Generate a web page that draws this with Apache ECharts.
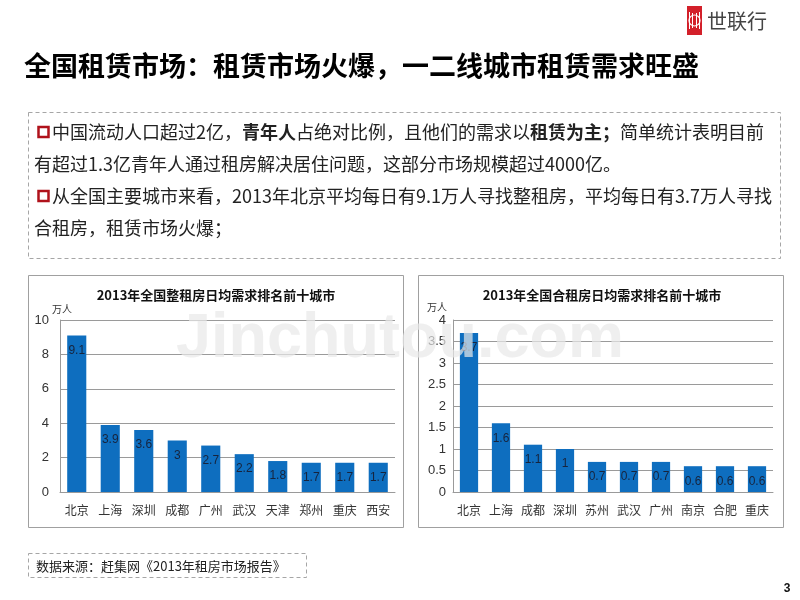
<!DOCTYPE html>
<html>
<head>
<meta charset="utf-8">
<script src="https://cdn.jsdelivr.net/npm/echarts@6/dist/echarts.min.js"></script>
<style>
html,body{margin:0;padding:0;background:#fff;}
#main{width:800px;height:600px;}
</style>
</head>
<body>
<div id="main"></div>
<script>
const pageTitle = '全国租赁市场：租赁市场火爆，一二线城市租赁需求旺盛';
const chart1Title = '2013年全国整租房日均需求排名前十城市';
const chart2Title = '2013年全国合租房日均需求排名前十城市';
const unitLabel = '万人';
const cities1 = ['北京','上海','深圳','成都','广州','武汉','天津','郑州','重庆','西安'];
const values1 = [9.1, 3.9, 3.6, 3, 2.7, 2.2, 1.8, 1.7, 1.7, 1.7];
const cities2 = ['北京','上海','成都','深圳','苏州','武汉','广州','南京','合肥','重庆'];
const values2 = [3.7, 1.6, 1.1, 1, 0.7, 0.7, 0.7, 0.6, 0.6, 0.6];
const yRange1 = [0, 10, 2];
const yRange2 = [0, 4, 0.5];
const sourceText = '数据来源：赶集网《2013年租房市场报告》';

const FONT = '"Noto Sans CJK SC", "Microsoft YaHei", sans-serif';
const BAR = '#0e6ebf';
const GRIDC = '#9a9a9a';

const chart = echarts.init(document.getElementById('main'), null, {renderer: 'canvas'});

function makeX(idx, cats) {
  return {
    type: 'category', gridIndex: idx, data: cats,
    axisLine: {show: true, lineStyle: {color: GRIDC, width: 1}},
    axisTick: {show: false},
    axisLabel: {color: '#333', fontSize: 12, fontFamily: FONT, margin: 12, interval: 0}
  };
}
function makeY(idx, r, fmtMargin) {
  return {
    type: 'value', gridIndex: idx, min: r[0], max: r[1], interval: r[2],
    axisLine: {show: true, lineStyle: {color: GRIDC, width: 1}},
    axisTick: {show: false},
    splitLine: {show: true, lineStyle: {color: GRIDC, width: 1}},
    axisLabel: {color: '#333', fontSize: 13, fontFamily: 'Liberation Sans, Arial, sans-serif', margin: fmtMargin}
  };
}
function makeSeries(idx, vals) {
  return {
    type: 'bar', xAxisIndex: idx, yAxisIndex: idx, data: vals, barWidth: '57%',
    itemStyle: {color: BAR},
    label: {show: true, position: 'insideTop', distance: 9, color: '#17243d', fontSize: 12,
            fontFamily: 'Liberation Sans, Arial, sans-serif'},
    animation: false
  };
}

function bodyLine(x, y, text, rich) {
  return {type: 'text', x: x, y: y, style: {text: text, rich: rich, font: '18px ' + FONT, fill: '#222', verticalAlign: 'middle'}};
}
const rich = {
  n: {fontSize: 18, fontFamily: FONT, color: '#222'},
  b: {fontSize: 18, fontFamily: FONT, color: '#111', fontWeight: 'bold'}
};

const option = {
  animation: false,
  backgroundColor: '#fff',
  grid: [
    {left: 60, top: 320, width: 335, height: 172},
    {left: 453, top: 320, width: 320, height: 172}
  ],
  xAxis: [makeX(0, cities1), makeX(1, cities2)],
  yAxis: [makeY(0, yRange1, 11), makeY(1, yRange2, 7)],
  series: [makeSeries(0, values1), makeSeries(1, values2)],
  graphic: [
    // logo
    {type: 'rect', shape: {x: 687, y: 6, width: 15, height: 29}, style: {fill: '#d3202a'}},
    {type: 'circle', shape: {cx: 694.5, cy: 20.5, r: 5.5}, style: {fill: 'none', stroke: '#fff', lineWidth: 1.2}},
    {type: 'line', shape: {x1: 692.5, y1: 13, x2: 692.5, y2: 28}, style: {stroke: '#fff', lineWidth: 1}},
    {type: 'line', shape: {x1: 696.5, y1: 13, x2: 696.5, y2: 28}, style: {stroke: '#fff', lineWidth: 1}},
    {type: 'line', shape: {x1: 689.5, y1: 12, x2: 689.5, y2: 29}, style: {stroke: '#fff', lineWidth: 1}},
    {type: 'line', shape: {x1: 699.5, y1: 12, x2: 699.5, y2: 29}, style: {stroke: '#fff', lineWidth: 1}},
    {type: 'text', x: 707, y: 21, style: {text: '世联行', font: '20px ' + FONT, fill: '#444', verticalAlign: 'middle'}},
    // page title
    {type: 'text', x: 24, y: 66, style: {text: pageTitle, font: 'bold 27px ' + FONT, fill: '#000', verticalAlign: 'middle'}},
    // text box
    {type: 'rect', shape: {x: 28.5, y: 112.5, width: 752, height: 146}, style: {fill: 'none', stroke: '#a6a6a6', lineWidth: 1, lineDash: [4, 3]}},
    {type: 'rect', shape: {x: 38.5, y: 127, width: 10, height: 10}, style: {fill: '#fff', stroke: '#b0121b', lineWidth: 2.5}},
    {type: 'rect', shape: {x: 38.5, y: 191, width: 10, height: 10}, style: {fill: '#fff', stroke: '#b0121b', lineWidth: 2.5}},
    bodyLine(52, 132, '{n|中国流动人口超过2亿，}{b|青年人}{n|占绝对比例，且他们的需求以}{b|租赁为主；}{n|简单统计表明目前}', rich),
    bodyLine(34, 164, '{n|有超过1.3亿青年人通过租房解决居住问题，这部分市场规模超过4000亿。}', rich),
    bodyLine(52, 196, '{n|从全国主要城市来看，2013年北京平均每日有9.1万人寻找整租房，平均每日有3.7万人寻找}', rich),
    bodyLine(34, 228, '{n|合租房，租赁市场火爆；}', rich),
    // chart boxes
    {type: 'rect', shape: {x: 28.5, y: 275.5, width: 375, height: 252}, style: {fill: 'none', stroke: '#a0a0a0', lineWidth: 1}, z: -1},
    {type: 'rect', shape: {x: 418.5, y: 275.5, width: 365, height: 252}, style: {fill: 'none', stroke: '#a0a0a0', lineWidth: 1}, z: -1},
    {type: 'text', x: 216, y: 295, style: {text: chart1Title, font: 'bold 13px ' + FONT, fill: '#111', align: 'center', verticalAlign: 'middle'}},
    {type: 'text', x: 602, y: 295, style: {text: chart2Title, font: 'bold 13px ' + FONT, fill: '#111', align: 'center', verticalAlign: 'middle'}},
    {type: 'text', x: 52, y: 309, style: {text: unitLabel, font: '10px ' + FONT, fill: '#333', verticalAlign: 'middle'}},
    {type: 'text', x: 427, y: 307, style: {text: unitLabel, font: '10px ' + FONT, fill: '#333', verticalAlign: 'middle'}},
    // source box
    {type: 'rect', shape: {x: 28.5, y: 553.5, width: 278, height: 24}, style: {fill: 'none', stroke: '#a6a6a6', lineWidth: 1, lineDash: [4, 3]}},
    {type: 'text', x: 36, y: 566, style: {text: sourceText, font: '13px ' + FONT, fill: '#222', verticalAlign: 'middle'}},
    // page number
    {type: 'text', x: 787, y: 589, style: {text: '3', font: 'bold 12px Liberation Sans, Arial, sans-serif', fill: '#111', align: 'center', verticalAlign: 'middle'}},
    // watermark
    {type: 'text', x: 400, y: 340, z: 100, style: {text: 'Jinchutou.com', font: 'bold 63px Liberation Sans, Arial, sans-serif', fill: 'rgba(232,232,232,0.7)', align: 'center', verticalAlign: 'middle'}}
  ]
};
chart.setOption(option);
</script>
</body>
</html>
